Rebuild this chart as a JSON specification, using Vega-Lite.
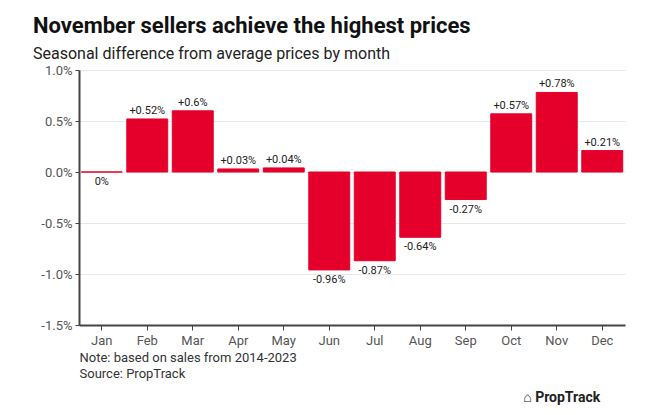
{
  "$schema": "https://vega.github.io/schema/vega-lite/v6.json",
  "width": 546,
  "height": 255,
  "autosize": "none",
  "padding": {"left": 79, "top": 70, "right": 45, "bottom": 90},
  "background": "white",
  "config": {
    "font": "Roboto",
    "view": {"stroke": null}
  },
  "title": {
    "text": "November sellers achieve the highest prices",
    "subtitle": "Seasonal difference from average prices by month",
    "anchor": "start",
    "frame": "group",
    "dx": -46,
    "offset": 1,
    "fontSize": 22,
    "fontWeight": "bold",
    "color": "#111111",
    "subtitleFontSize": 16,
    "subtitleColor": "#222222",
    "subtitlePadding": 8
  },
  "data": {
    "values": [
      {"month": "Jan", "value": 0, "label": "0%"},
      {"month": "Feb", "value": 0.52, "label": "+0.52%"},
      {"month": "Mar", "value": 0.6, "label": "+0.6%"},
      {"month": "Apr", "value": 0.03, "label": "+0.03%"},
      {"month": "May", "value": 0.04, "label": "+0.04%"},
      {"month": "Jun", "value": -0.96, "label": "-0.96%"},
      {"month": "Jul", "value": -0.87, "label": "-0.87%"},
      {"month": "Aug", "value": -0.64, "label": "-0.64%"},
      {"month": "Sep", "value": -0.27, "label": "-0.27%"},
      {"month": "Oct", "value": 0.57, "label": "+0.57%"},
      {"month": "Nov", "value": 0.78, "label": "+0.78%"},
      {"month": "Dec", "value": 0.21, "label": "+0.21%"}
    ]
  },
  "encoding": {
    "x": {
      "field": "month",
      "type": "nominal",
      "sort": null,
      "scale": {"paddingInner": 0.1, "paddingOuter": 0.05},
      "axis": {
        "title": ["Note: based on sales from 2014-2023", "Source: PropTrack"],
        "titleAnchor": "start",
        "titleAlign": "left",
        "titleBaseline": "top",
        "titleFontWeight": "normal",
        "titleFontSize": 13,
        "titleColor": "#333333",
        "titleLineHeight": 16,
        "titlePadding": 4,
        "labelAngle": 0,
        "labelFontSize": 13,
        "labelColor": "#555555",
        "labelPadding": 4,
        "domainColor": "#444444",
        "domainWidth": 2,
        "tickColor": "#444444",
        "tickSize": 5,
        "grid": false
      }
    },
    "y": {
      "field": "value",
      "type": "quantitative",
      "scale": {"domain": [-1.5, 1.0], "nice": false},
      "axis": {
        "title": null,
        "values": [-1.5, -1, -0.5, 0, 0.5, 1],
        "labelExpr": "replace(format(datum.value, '.1f'), '\u2212', '-') + '%'",
        "labelFontSize": 13,
        "labelColor": "#555555",
        "labelPadding": 3,
        "domainColor": "#444444",
        "domainWidth": 2,
        "tickColor": "#444444",
        "tickSize": 4,
        "gridColor": "#e8e8e8",
        "gridWidth": 1
      }
    }
  },
  "layer": [
    {
      "mark": {"type": "bar", "color": "#e4002b", "stroke": "#e4002b", "strokeWidth": 1}
    },
    {
      "transform": [{"filter": "datum.value > 0"}],
      "mark": {"type": "text", "baseline": "bottom", "dy": -3, "fontSize": 11, "color": "#222222"},
      "encoding": {"text": {"field": "label"}}
    },
    {
      "transform": [{"filter": "datum.value <= 0"}],
      "mark": {"type": "text", "baseline": "top", "dy": 4, "fontSize": 11, "color": "#222222"},
      "encoding": {"text": {"field": "label"}}
    },
    {
      "data": {"values": [{"month": "Dec", "value": -1.5, "label": "\u2302 PropTrack"}]},
      "mark": {"type": "text", "align": "right", "baseline": "middle", "dy": 73, "dx": -2, "fontSize": 14, "fontWeight": "bold", "color": "#222222"},
      "encoding": {"text": {"field": "label"}}
    }
  ]
}
